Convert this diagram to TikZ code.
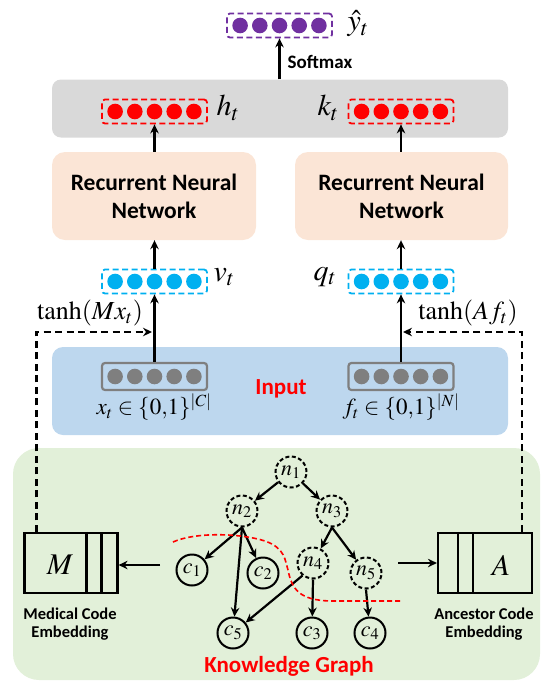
\documentclass[tikz,border=0pt]{standalone}
\usepackage{mathptmx}
\usepackage[no-math]{fontspec}
\setmainfont{Liberation Serif}
\newfontfamily\carl{Carlito}
\usetikzlibrary{arrows.meta,calc}
\definecolor{rowgray}{HTML}{D9D9D9}
\definecolor{rnnfill}{HTML}{FBE5D6}
\definecolor{inblue}{HTML}{BDD7EE}
\definecolor{kggreen}{HTML}{E2F0D9}
\definecolor{vpurple}{HTML}{7030A0}
\definecolor{vcyan}{HTML}{00B0F0}
\definecolor{vred}{HTML}{FF0000}
\definecolor{vgray}{HTML}{7F7F7F}
\tikzset{
  lbl/.style={font=\carl\bfseries},
  conn/.style={line width=2.2pt,-{Stealth[length=9pt,width=8.5pt,inset=3pt]}},
  dconn/.style={conn,dash pattern=on 7pt off 4.5pt},
  vecbox/.style={rounded corners=3pt,minimum width=105pt,minimum height=24pt,line width=1.8pt,inner sep=0pt},
  dvec/.style={vecbox,dash pattern=on 6pt off 3.5pt},
  svec/.style={vecbox,line width=2.2pt,minimum height=27pt},
  gnode/.style={circle,draw,line width=2pt,minimum size=31pt,inner sep=0pt,font=\fontsize{22}{22}\selectfont},
  hnode/.style={gnode,dash pattern=on 4pt off 2.5pt},
  embbox/.style={draw,line width=2.2pt,minimum width=93pt,minimum height=60pt,inner sep=0pt},
  mlbl/.style={font=\fontsize{30}{30}\selectfont},
}
\newcommand\myvec[4]{%
  \node[#4,draw=#3] (#1) at (#2) {};
  \foreach \k in {-2,...,2}{\fill[#3] ($(#1.center)+(\k*19.7,0)$) circle[radius=7.8pt];}
}
\begin{document}
\begin{tikzpicture}[x=1pt,y=-1pt]
\useasboundingbox (0,0) rectangle (542,681);
% backgrounds
\node[fill=rowgray,rounded corners=9pt,minimum width=456pt,minimum height=58pt,inner sep=0pt] (row) at (280,108.5) {};
\node[fill=rnnfill,rounded corners=13pt,minimum width=204pt,minimum height=88pt,align=center,font=\carl\bfseries\fontsize{23.5}{28}\selectfont] (rnnL) at (154,196) {Recurrent Neural\\Network};
\node[fill=rnnfill,rounded corners=13pt,minimum width=213pt,minimum height=88pt,align=center,font=\carl\bfseries\fontsize{23.5}{28}\selectfont] (rnnR) at (401.5,196) {Recurrent Neural\\Network};
\node[fill=inblue,rounded corners=11pt,minimum width=456pt,minimum height=88pt,inner sep=0pt] (inp) at (280,391) {};
\node[fill=kggreen,rounded corners=26pt,minimum width=527pt,minimum height=232pt,inner sep=0pt] (kg) at (276.5,564) {};
% vectors
\myvec{yv}{279.5,25.5}{vpurple}{dvec}
\myvec{hv}{154.5,111.5}{vred}{dvec}
\myvec{kv}{401,111.5}{vred}{dvec}
\myvec{vv}{154.5,281.5}{vcyan}{dvec}
\myvec{qv}{401,281.5}{vcyan}{dvec}
\myvec{xv}{154.5,376.5}{vgray}{svec}
\myvec{fv}{401,376.5}{vgray}{svec}
% math labels
\node[mlbl,inner sep=1pt] (ylab) at (358,24) {$\hat{y}_t$};
\node[mlbl] (hlab) at (228,108) {$h_t$};
\node[mlbl] (klab) at (328,108) {$k_t$};
\node[mlbl] (vlab) at (224,277) {$v_t$};
\node[mlbl] (qlab) at (325,277) {$q_t$};
\node[font=\fontsize{26}{26}\selectfont] (tanhM) at (90,313) {$\tanh(Mx_t)$};
\node[font=\fontsize{26}{26}\selectfont] (tanhA) at (468,313) {$\tanh(Af_t)$};
\node[font=\fontsize{23}{23}\selectfont] (xlab) at (154,407) {$x_t\in\{0{,}1\}^{|C|}$};
\node[font=\fontsize{23}{23}\selectfont] (flab) at (401,407) {$f_t\in\{0{,}1\}^{|N|}$};
% text labels
\node[font=\carl\bfseries\fontsize{19}{19}\selectfont] (soft) at (320,62) {Softmax};
\node[text=vred,font=\carl\bfseries\fontsize{23}{23}\selectfont] (inlbl) at (281,389) {Input};
\node[text=vred,font=\carl\bfseries\fontsize{23}{23}\selectfont] (kglbl) at (289,666) {Knowledge Graph};
% main arrows
\draw[conn] (yv.south |- row.north) -- (yv.south);
\draw[conn] (hv.south |- rnnL.north) -- (hv.south);
\draw[conn] (kv.south |- rnnR.north) -- (kv.south);
\draw[conn] (vv.north) -- (vv.north |- rnnL.south);
\draw[conn] (qv.north) -- (qv.north |- rnnR.south);
\draw[conn] (xv.north) -- (xv.south |- vv.south);
\draw[conn] (fv.north) -- (fv.south |- qv.south);
% embedding boxes
\node[embbox] (Mbox) at (71,563) {};
\draw[line width=2.2pt] (Mbox.north west) ++(63,0) -- ++(0,60) ++(15,0) -- ++(0,-60);
\node[mlbl] (Mlab) at (60,565) {$M$};
\node[embbox,minimum width=94pt] (Abox) at (485,563) {};
\draw[line width=2.2pt] (Abox.north west) ++(21,0) -- ++(0,60) ++(15,0) -- ++(0,-60);
\node[mlbl] (Alab) at (501,565) {$A$};
\node[align=center,font=\carl\bfseries\fontsize{16.5}{18}\selectfont] (mce) at (70,624) {Medical Code\\Embedding};
\node[align=center,font=\carl\bfseries\fontsize{16.5}{18}\selectfont] (ace) at (484,624) {Ancestor Code\\Embedding};
% dashed projections
\coordinate (tipL) at (152,332);
\coordinate (tipR) at (403,332);
\draw[dconn] ($(Mbox.north west)+(13,0)$) |- (tipL);
\draw[dconn] ($(Abox.north west)+(85,0)$) |- (tipR);
% graph
\node[hnode] (n1) at (291,472) {$n_1$};
\node[hnode] (n2) at (242,511) {$n_2$};
\node[hnode] (n3) at (332,511) {$n_3$};
\node[hnode] (n4) at (313,563) {$n_4$};
\node[hnode] (n5) at (366,573) {$n_5$};
\node[gnode] (c1) at (192,570) {$c_1$};
\node[gnode] (c2) at (263,573) {$c_2$};
\node[gnode] (c5) at (233,633) {$c_5$};
\node[gnode] (c3) at (312,633) {$c_3$};
\node[gnode] (c4) at (370,633) {$c_4$};
\draw[conn] (n1) -- (n2);
\draw[conn] (n1) -- (n3);
\draw[conn] (n2.south) -- (c1);
\draw[conn] (n2.south) -- (c2);
\draw[conn] (n2.south) -- (c5);
\draw[conn] (n3.south) -- (n4);
\draw[conn] (n3.south) -- (n5);
\draw[conn] (n4.230) -- (c5);
\draw[conn] (n4.south) -- (c3);
\draw[conn] (n5.south) -- (c4);
\draw[vred,line width=1.6pt,dash pattern=on 5pt off 3pt] (173,542) .. controls (195,532) and (240,533) .. (265,541) .. controls (285,548) and (285,560) .. (288,570) .. controls (292,590) and (300,600) .. (330,601) -- (403,601);
% arrows to embeddings
\coordinate (mfrom) at (160,565);
\coordinate (afrom) at (398,563);
\draw[conn] (mfrom) -- (mfrom -| Mbox.east);
\draw[conn] (afrom) -- (afrom -| Abox.west);
\end{tikzpicture}
\end{document}
